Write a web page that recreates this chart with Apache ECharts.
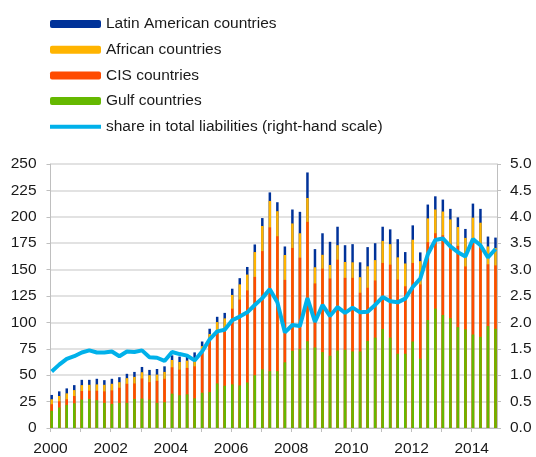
<!DOCTYPE html>
<html>
<head>
<meta charset="utf-8">
<script src="https://cdn.jsdelivr.net/npm/echarts@6/dist/echarts.min.js"></script>
<style>
  html, body { margin: 0; padding: 0; background: #fff; }
  #chart { width: 536px; height: 457px; }
</style>
</head>
<body>
<div id="chart"></div>
<script>
// quarterly observations, 2000 Q1 .. 2014 Q4
var firstYear = 2000;

var gulf = [16.3, 19.4, 21.9, 23.4, 26.9, 27.5, 26.3, 23.8, 22.8, 23.8,
            23.8, 27.5, 27.8, 26.9, 23.8, 24.4, 32.5, 31.0, 31.9, 28.1,
            33.4, 34.0, 42.2, 40.0, 41.3, 40.3, 43.1, 50.0, 55.6, 53.8,
            53.8, 62.2, 73.1, 74.7, 82.2, 76.3, 71.9, 68.4, 73.4, 74.1,
            72.5, 72.5, 82.5, 85.6, 93.8, 85.6, 70.3, 70.3, 81.9, 65.6,
            102.2, 113.1, 107.0, 104.0, 95.5, 93.4, 88.5, 86.3, 96.5, 94.0];
var cis = [6.2, 5.9, 5.3, 6.9, 8.1, 7.8, 9.0, 10.9, 12.8, 14.3,
           18.1, 14.7, 19.1, 16.5, 20.9, 22.2, 25.0, 24.3, 25.0, 30.3,
           37.6, 50.0, 50.6, 54.4, 71.7, 81.3, 87.2, 93.1, 111.9, 136.2,
           127.8, 78.1, 97.4, 86.6, 113.0, 60.6, 79.0, 73.2, 86.0, 68.1,
           69.7, 55.6, 50.3, 54.1, 62.5, 69.1, 70.3, 63.9, 74.4, 70.4,
           73.8, 71.3, 75.5, 70.5, 77.0, 59.6, 88.5, 84.7, 58.5, 60.0];
var african = [4.7, 5.0, 5.6, 5.6, 5.6, 5.6, 6.0, 6.2, 6.3, 5.3,
               5.3, 6.2, 5.9, 6.6, 5.9, 6.5, 6.9, 7.2, 6.9, 8.1,
               6.5, 5.0, 7.5, 9.4, 13.0, 14.4, 15.0, 23.5, 23.8, 25.0,
               23.7, 23.5, 23.2, 23.1, 22.6, 15.3, 13.1, 12.8, 13.7, 15.0,
               14.7, 14.7, 20.3, 19.3, 20.9, 19.4, 21.0, 21.6, 22.0, 22.0,
               22.5, 22.5, 22.5, 23.0, 17.8, 27.0, 22.2, 23.4, 16.9, 16.5];
var latin = [4.1, 4.4, 4.7, 4.7, 5.0, 4.7, 5.3, 4.4, 4.7, 4.7,
             4.1, 4.7, 5.0, 5.0, 5.3, 5.3, 4.4, 5.1, 4.6, 5.1,
             4.4, 5.0, 5.0, 5.2, 5.9, 5.9, 7.2, 7.2, 7.5, 8.1,
             8.5, 8.1, 13.2, 20.3, 24.2, 17.2, 20.4, 21.9, 17.5, 15.9,
             17.2, 14.1, 18.2, 16.0, 13.4, 14.0, 17.2, 10.8, 13.6, 8.3,
             13.1, 12.5, 11.3, 10.0, 9.2, 8.5, 13.3, 13.1, 9.4, 9.8];
// share in total liabilities, % (right-hand scale)
var share = [1.07, 1.20, 1.31, 1.36, 1.43, 1.47, 1.43, 1.43, 1.45, 1.36,
             1.45, 1.44, 1.47, 1.34, 1.33, 1.27, 1.44, 1.40, 1.37, 1.28,
             1.45, 1.68, 1.83, 1.86, 2.04, 2.11, 2.19, 2.33, 2.46, 2.63,
             2.38, 1.81, 1.95, 1.93, 2.46, 2.01, 2.33, 2.12, 2.29, 2.18,
             2.28, 2.19, 2.20, 2.33, 2.48, 2.40, 2.38, 2.45, 2.67, 2.83,
             3.29, 3.56, 3.59, 3.44, 3.33, 3.25, 3.58, 3.46, 3.23, 3.39];

var names = ['Latin American countries', 'African countries', 'CIS countries',
             'Gulf countries', 'share in total liabilities (right-hand scale)'];

function xOf(i) {
    return firstYear + i * 0.25 + 0.04;
}

function toPoints(arr) {
    return arr.map(function (v, i) { return [xOf(i), v]; });
}

// bars on a value x-axis don't stack, so draw running totals on top of each other
function cumulative(parts) {
    return parts[0].map(function (_, i) {
        var s = 0;
        parts.forEach(function (p) { s += p[i]; });
        return Math.round(s * 10) / 10;
    });
}

var txt = '#1a1a1a';
var grey = '#d9d9d9';
var axisGrey = '#bfbfbf';

function barSeries(name, data, color) {
    return {
        name: name,
        type: 'bar',
        barWidth: 2.5,
        barGap: '-100%',
        itemStyle: { color: color },
        data: toPoints(data)
    };
}

var myChart = echarts.init(document.getElementById('chart'));

var option = {
    animation: false,
    textStyle: { fontFamily: 'Liberation Sans, Arial, sans-serif' },
    legend: {
        orient: 'vertical',
        left: 50,
        top: 16,
        padding: 0,
        itemWidth: 51,
        itemHeight: 8,
        itemGap: 9.7,
        textStyle: { color: txt, fontSize: 15.5 },
        data: [
            names[0], names[1], names[2], names[3],
            { name: names[4], icon: 'path://M0,0M0,2H51V6H0ZM51,8' }
        ]
    },
    grid: { left: 50.5, right: 39, top: 164, bottom: 26.3 },
    xAxis: {
        type: 'value',
        min: 2000,
        max: 2014.84,
        interval: 1,
        splitLine: { show: false },
        axisLine: { lineStyle: { color: axisGrey } },
        axisTick: { show: true, length: 4, lineStyle: { color: axisGrey } },
        axisLabel: {
            color: txt,
            fontSize: 15.5,
            margin: 13,
            showMaxLabel: false,
            formatter: function (v) {
                return (Math.round(v) === v && v % 2 === 0) ? String(v) : '';
            }
        }
    },
    yAxis: [
        {
            type: 'value',
            min: 0,
            max: 250,
            interval: 25,
            axisLine: { show: true, lineStyle: { color: axisGrey } },
            axisTick: { show: true, length: 4, lineStyle: { color: axisGrey } },
            splitLine: { lineStyle: { color: grey, width: 1.5 } },
            axisLabel: { color: txt, fontSize: 15.5, margin: 14 }
        },
        {
            type: 'value',
            min: 0,
            max: 5,
            interval: 0.5,
            axisLine: { show: true, lineStyle: { color: axisGrey } },
            axisTick: { show: true, length: 4, lineStyle: { color: axisGrey } },
            splitLine: { show: false },
            axisLabel: {
                color: txt,
                fontSize: 15.5,
                margin: 13,
                formatter: function (v) { return v.toFixed(1); }
            }
        }
    ],
    series: [
        barSeries(names[0], cumulative([gulf, cis, african, latin]), '#003299'),
        barSeries(names[1], cumulative([gulf, cis, african]), '#ffb400'),
        barSeries(names[2], cumulative([gulf, cis]), '#ff4b00'),
        barSeries(names[3], gulf, '#65b800'),
        {
            name: names[4],
            type: 'line',
            yAxisIndex: 1,
            symbol: 'none',
            lineStyle: { color: '#00b1ea', width: 4 },
            itemStyle: { color: '#00b1ea' },
            data: toPoints(share)
        }
    ]
};

myChart.setOption(option);
</script>
</body>
</html>
